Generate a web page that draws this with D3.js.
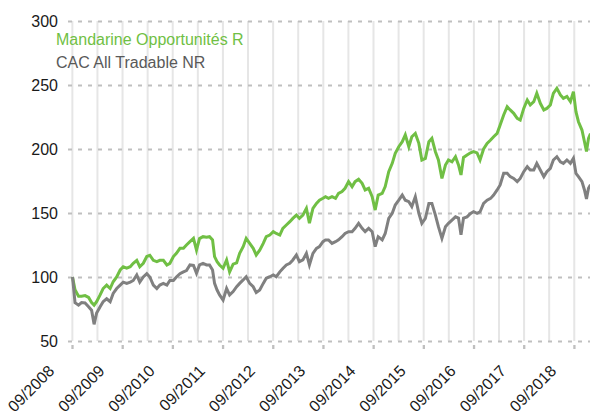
<!DOCTYPE html>
<html>
<head>
<meta charset="utf-8">
<script src="https://cdn.jsdelivr.net/npm/d3@7"></script>
<style>
  body { margin: 0; background: #fff; }
  text { font-family: "Liberation Sans", Arial, sans-serif; }
</style>
</head>
<body>
<div id="chart"></div>
<script>
// time in decimal years
var years = [2008.67,2008.72,2008.79,2008.85,2008.92,2008.99,2009.05,2009.10,2009.15,2009.22,
  2009.28,2009.35,2009.42,2009.48,2009.55,2009.62,2009.68,2009.75,2009.82,2009.88,
  2009.95,2010.01,2010.08,2010.15,2010.21,2010.28,2010.35,2010.41,2010.48,2010.55,
  2010.61,2010.68,2010.74,2010.81,2010.88,2010.94,2011.01,2011.08,2011.14,2011.20,
  2011.27,2011.34,2011.40,2011.46,2011.50,2011.55,2011.60,2011.67,2011.74,2011.80,
  2011.87,2011.94,2012.00,2012.07,2012.13,2012.20,2012.27,2012.33,2012.40,2012.47,
  2012.53,2012.60,2012.67,2012.73,2012.80,2012.86,2012.93,2013.00,2013.06,2013.13,
  2013.19,2013.26,2013.33,2013.39,2013.46,2013.53,2013.59,2013.66,2013.71,2013.77,
  2013.84,2013.91,2013.97,2014.04,2014.10,2014.17,2014.24,2014.30,2014.37,2014.44,
  2014.50,2014.57,2014.64,2014.70,2014.76,2014.84,2014.90,2014.97,2015.04,2015.10,
  2015.17,2015.24,2015.30,2015.37,2015.43,2015.50,2015.57,2015.63,2015.70,2015.77,
  2015.83,2015.90,2015.96,2016.03,2016.10,2016.16,2016.23,2016.30,2016.36,2016.41,
  2016.46,2016.53,2016.60,2016.66,2016.73,2016.79,2016.86,2016.93,2017.00,2017.06,
  2017.13,2017.19,2017.26,2017.33,2017.39,2017.46,2017.53,2017.59,2017.66,2017.73,
  2017.79,2017.86,2017.92,2017.99,2018.06,2018.12,2018.19,2018.25,2018.32,2018.39,
  2018.45,2018.52,2018.59,2018.65,2018.70,2018.75,2018.82,2018.87,2018.91,2018.95,
  2018.99];

var mandarine = [100,90,85,85,85.5,84,80,78,80.7,86,
  91,93.7,91,96.3,100,105.5,108,107,108,110.7,
  113,108,110.7,116,117,113,112,113,113,109.4,
  110.7,116,118.5,122.4,122.4,125,127.6,130.2,121,130,
  131.5,131,131.5,129,115.9,112,109.4,106.8,113.3,104,
  110,111,118.5,123.7,130.2,126.3,122.4,117.2,121,126.3,
  131.5,132.8,135.4,134,132.8,138,140.6,143.2,145.8,148.4,
  145.8,148.4,153.6,142,153.6,157.5,160,161.5,162.7,161.4,
  162.7,161.4,165.4,166.7,169.3,174.5,170.6,174.5,176.3,173.2,
  168,169.3,162.7,152.3,164,165.4,170.6,182.3,188.8,196.6,
  201.8,205.7,211,201.8,209.6,212.2,204.4,191.4,192.7,205.7,
  208.3,197.9,191.4,177,187.5,191.4,190,194,187.5,179.7,
  193.4,195.3,197,197.9,197,191.4,200,204.4,207,209.6,
  212.2,218.7,226.6,233,230.5,227.9,223.9,222.6,231.7,238.3,
  234.4,237,243.5,235.7,230.5,231.7,234.4,243.5,247.4,242.2,
  239.6,241,237,244.8,229.2,221.3,214.8,205.7,198,208.3,
  212];

var cac = [100,80,78,80,79.7,76.8,74,63,71.8,76.8,
  80.7,83,80.7,87.2,91,93.7,96,95,96,97.3,
  101.6,96,100,102.6,100,93.7,91,93.7,95,93.7,
  97.3,97.3,100,102.6,104,105,109.4,109,103,109.4,
  110.7,109.4,109.4,105.5,95,89.8,86,82,91,86,
  88.6,92.4,95,97.7,100.2,95,92.4,87.8,89.8,95,
  99,100.2,101.6,100.2,104,106.7,109.4,110.7,113.3,117.2,
  112,113.3,118.5,109.4,118.5,122.4,123.7,127.6,129,129,
  126.3,127.6,129,131.5,134,135.4,135.4,138,141.9,138,
  135.4,138,135.4,123.7,131.5,129,134,145.8,149.7,156.2,
  160,164,160,158.8,155,162.7,149.7,141.9,145.8,157.5,
  157.5,148.4,139.3,130.2,139.3,141.9,144.5,147,146,133,
  146,147,149.7,151,149.7,151,157.5,160,161.4,164,
  168,171.9,181,181,178.4,177,174.5,177,182.3,186.2,
  183.6,183.6,188.8,183.6,178.4,182.3,184.9,191.4,194,190,
  188.8,191.4,188.8,192.7,181,178.4,174.5,168,161,169.3,
  172];

var seriesNames = ["Mandarine Opportunités R", "CAC All Tradable NR"];
var tickYears = [2008,2009,2010,2011,2012,2013,2014,2015,2016,2017,2018];
var tickLabels = ["09/2008","09/2009","09/2010","09/2011","09/2012","09/2013",
  "09/2014","09/2015","09/2016","09/2017","09/2018"];
var yTicks = [50,100,150,200,250,300];

var svgWidth = 590;
var svgHeight = 415;
var green = "#70bf44";
var grey = "#808080";

var svg = d3.select("#chart")
  .append("svg")
  .attr("width", svgWidth)
  .attr("height", svgHeight);

var xScale = d3.scaleLinear().domain([2008.58, 2019]).range([68, 591]);
var yScale = d3.scaleLinear().domain([50, 300]).range([341, 21]);

// vertical gridlines, september and march of each year
var gridYears = [];
tickYears.forEach(function(y) {
  gridYears.push(y + 8 / 12);
  if (y < 2018) gridYears.push(y + 1 + 2 / 12);
});
svg.append("g").selectAll("line")
  .data(gridYears)
  .enter()
  .append("line")
  .attr("x1", d => xScale(d)).attr("x2", d => xScale(d))
  .attr("y1", yScale(300)).attr("y2", yScale(50))
  .attr("stroke", "#e6e6e6")
  .attr("stroke-width", 2);

// horizontal dashed gridlines + labels
var leftAxis = d3.axisLeft(yScale)
  .tickValues(yTicks)
  .tickSize(-(590 - 68))
  .tickPadding(10);
var yAxis = svg.append("g")
  .attr("transform", "translate(68,0)")
  .call(leftAxis);
yAxis.select(".domain").remove();
yAxis.selectAll(".tick line")
  .attr("stroke", "#bfbfbf")
  .attr("stroke-width", 2)
  .attr("stroke-dasharray", "4,6");
yAxis.selectAll(".tick text")
  .attr("x", -10)
  .attr("fill", "#1a1a1a")
  .style("font-size", "16px");

// small year tick marks under the 50 line
svg.append("g").selectAll("rect")
  .data(tickYears)
  .enter()
  .append("rect")
  .attr("x", d => xScale(d + 8 / 12) - 1)
  .attr("y", 345)
  .attr("width", 2.3)
  .attr("height", 4)
  .attr("fill", "#bfbfbf");

// rotated date labels
svg.append("g").selectAll("text")
  .data(tickYears)
  .enter()
  .append("text")
  .attr("transform", d => `translate(${xScale(d + 8 / 12) - 17}, 372) rotate(-45)`)
  .attr("text-anchor", "end")
  .attr("fill", "#1a1a1a")
  .style("font-size", "16px")
  .text((d, i) => tickLabels[i]);

// lines
var line = d3.line()
  .x((d, i) => xScale(years[i]))
  .y(d => yScale(d));

svg.append("path")
  .datum(mandarine)
  .attr("fill", "none")
  .attr("stroke", green)
  .attr("stroke-width", 3)
  .attr("stroke-linejoin", "miter")
  .attr("d", line);

svg.append("path")
  .datum(cac)
  .attr("fill", "none")
  .attr("stroke", grey)
  .attr("stroke-width", 3)
  .attr("stroke-linejoin", "miter")
  .attr("d", line);

// legend
svg.append("text")
  .attr("x", 56).attr("y", 45)
  .attr("fill", green)
  .style("font-size", "16px")
  .text(seriesNames[0]);

svg.append("text")
  .attr("x", 56).attr("y", 67.5)
  .attr("fill", "#595959")
  .style("font-size", "16px")
  .text(seriesNames[1]);
</script>
</body>
</html>
